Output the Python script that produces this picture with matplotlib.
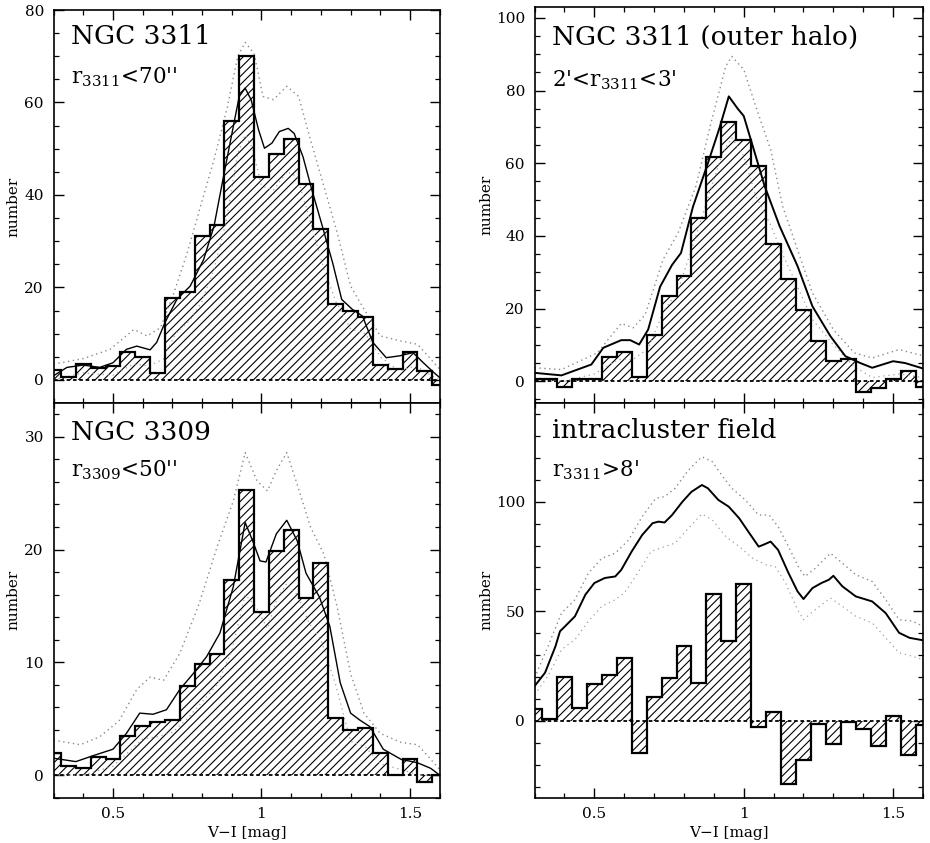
import numpy as np
import matplotlib
matplotlib.use("Agg")
import matplotlib.pyplot as plt
from matplotlib.ticker import MultipleLocator

plt.rcParams['font.family'] = ['DejaVu Serif']
plt.rcParams['mathtext.fontset'] = 'dejavuserif'
plt.rcParams['hatch.linewidth'] = 0.8

# bin centres (V-I), 0.05 mag wide
bin_centers = [0.30, 0.35, 0.40, 0.45, 0.50, 0.55, 0.60, 0.65, 0.70, 0.75, 0.80, 0.85, 0.90, 0.95,
               1.00, 1.05, 1.10, 1.15, 1.20, 1.25, 1.30, 1.35, 1.40, 1.45, 1.50, 1.55, 1.60]

# --- NGC 3311, r < 70''
tl_hist = [2.2, 0.7, 3.4, 2.6, 2.9, 6.1, 5.0, 1.4, 17.8, 19.1, 31.1, 33.5, 56.0, 70.1,
           43.9, 48.8, 52.2, 42.4, 32.7, 16.5, 15.0, 13.5, 3.2, 2.3, 6.0, 1.9, -1.1]
tl_sx = [0.30, 0.345, 0.40, 0.455, 0.50, 0.545, 0.58, 0.625, 0.647, 0.675, 0.715, 0.76, 0.805,
         0.84, 0.87, 0.905, 0.925, 0.945, 0.965, 0.99, 1.01, 1.035, 1.06, 1.09, 1.11, 1.14,
         1.17, 1.205, 1.24, 1.27, 1.305, 1.34, 1.375, 1.42, 1.465, 1.51, 1.545, 1.58, 1.60]
tl_sy = [0.9, 2.7, 3.2, 2.7, 3.7, 6.6, 7.3, 6.5, 8.1, 12.4, 17.4, 20.3, 26.0,
         33.2, 43.3, 54.8, 61.3, 63.1, 60.6, 54.1, 50.1, 51.2, 53.7, 54.4, 53.3, 48.2,
         41.0, 33.2, 25.2, 17.4, 15.3, 13.8, 8.1, 4.8, 5.2, 5.9, 3.7, 1.6, 0.5]
tl_ux = [0.30, 0.40, 0.49, 0.57, 0.615, 0.66, 0.705, 0.75, 0.795, 0.84, 0.885, 0.92, 0.945,
         0.975, 1.005, 1.04, 1.085, 1.125, 1.165, 1.21, 1.255, 1.30, 1.345, 1.40, 1.47,
         1.525, 1.57, 1.60]
tl_uy = [3.4, 4.6, 6.6, 10.9, 9.5, 11.3, 18.8, 27.5, 37.6, 47.6, 59.0, 70.0, 73.0,
         70.6, 61.3, 60.6, 63.5, 61.3, 51.9, 41.9, 31.8, 20.3, 15.3, 9.5, 8.4,
         7.7, 4.5, 2.3]
tl_lx = [0.30, 0.40, 0.50, 0.57, 0.62, 0.67, 0.71, 0.76, 0.80, 0.84, 0.88, 0.92, 0.945, 0.97,
         1.00, 1.04, 1.085, 1.12, 1.17, 1.21, 1.25, 1.30, 1.35, 1.40, 1.46, 1.52, 1.57, 1.60]
tl_ly = [0.0, 1.5, 1.0, 3.5, 3.0, 4.5, 10.0, 13.0, 17.0, 24.0, 34.0, 49.0, 53.0, 50.0,
         42.0, 41.0, 45.0, 44.0, 33.0, 24.0, 17.0, 11.0, 10.0, 5.0, 2.0, 3.0, 1.0, 0.0]

# --- NGC 3309, r < 50''
bl_hist = [2.0, 0.8, 0.65, 1.6, 1.4, 3.5, 4.4, 4.7, 4.9, 7.9, 9.9, 10.7, 17.3, 25.3,
           14.5, 19.9, 21.7, 15.7, 18.8, 5.1, 4.0, 4.2, 2.0, 0.0, 1.4, -0.6, 0.0]
bl_sx = [0.30, 0.375, 0.43, 0.50, 0.545, 0.59, 0.635, 0.68, 0.725, 0.77, 0.815, 0.86, 0.905,
         0.945, 0.97, 0.995, 1.015, 1.05, 1.085, 1.12, 1.15, 1.195, 1.23, 1.265, 1.30, 1.33,
         1.365, 1.41, 1.47, 1.525, 1.57, 1.60]
bl_sy = [1.5, 1.2, 1.7, 2.3, 3.7, 5.5, 5.4, 5.8, 7.6, 9.0, 10.5, 12.6, 16.7,
         22.4, 20.8, 19.0, 18.9, 21.4, 22.6, 20.8, 17.9, 15.8, 13.2, 8.2, 5.5, 4.9,
         4.3, 2.3, 1.4, 1.1, 0.6, 0.0]
bl_ux = [0.30, 0.39, 0.455, 0.52, 0.58, 0.625, 0.67, 0.725, 0.79, 0.85, 0.905, 0.945, 0.985,
         1.02, 1.05, 1.085, 1.12, 1.165, 1.21, 1.255, 1.30, 1.345, 1.40, 1.47, 1.525, 1.57, 1.60]
bl_uy = [3.1, 2.7, 3.4, 4.8, 7.6, 8.7, 8.4, 10.8, 15.2, 20.2, 24.3, 28.6, 26.1,
         25.2, 27.0, 28.6, 25.8, 22.0, 19.6, 14.9, 9.0, 5.5, 3.7, 2.9, 2.7, 1.4, 0.5]
bl_lx = [0.30, 0.40, 0.50, 0.55, 0.60, 0.65, 0.70, 0.75, 0.80, 0.85, 0.90, 0.945, 0.98,
         1.02, 1.05, 1.085, 1.12, 1.16, 1.20, 1.25, 1.30, 1.35, 1.40, 1.47, 1.53, 1.60]
bl_ly = [0.0, 0.0, 0.8, 2.0, 3.2, 3.4, 3.8, 5.0, 6.5, 8.0, 11.0, 16.0, 15.0,
         13.0, 15.5, 17.0, 16.0, 13.5, 12.0, 8.0, 3.0, 2.5, 1.0, 0.5, 0.0, 0.0]

# --- NGC 3311 outer halo, 2' < r < 3'
tr_hist = [0.5, 0.5, -1.6, 0.5, 0.5, 6.7, 8.0, 1.2, 12.6, 23.4, 28.9, 45.0, 61.7, 71.4,
           66.5, 59.2, 37.9, 28.0, 19.5, 11.0, 5.5, 6.1, -3.0, -1.8, 0.5, 2.8, -1.7]
tr_sx = [0.30, 0.39, 0.49, 0.53, 0.59, 0.62, 0.65, 0.68, 0.72, 0.76, 0.79, 0.83, 0.88, 0.92,
         0.95, 0.98, 1.00, 1.04, 1.07, 1.12, 1.18, 1.23, 1.29, 1.34, 1.39, 1.43, 1.50, 1.54, 1.60]
tr_sy = [2.3, 1.6, 4.6, 9.2, 11.3, 11.3, 10.1, 14.2, 26.0, 32.0, 35.3, 48.0, 60.0, 70.0,
         78.4, 75.0, 73.0, 62.0, 53.7, 42.7, 31.7, 20.6, 12.4, 6.9, 5.0, 3.7, 5.5, 5.0, 3.5]
tr_ux = [0.30, 0.39, 0.51, 0.59, 0.63, 0.67, 0.73, 0.78, 0.84, 0.89, 0.94, 0.96, 1.00, 1.04,
         1.09, 1.13, 1.18, 1.23, 1.30, 1.37, 1.43, 1.52, 1.60]
tr_uy = [3.7, 3.2, 7.8, 15.9, 14.7, 18.3, 33.5, 40.8, 53.7, 71.0, 86.7, 89.4, 85.8, 75.7,
         63.8, 48.2, 36.2, 24.3, 14.2, 7.8, 6.4, 8.7, 7.0]
tr_lx = [0.30, 0.40, 0.50, 0.58, 0.63, 0.68, 0.73, 0.78, 0.84, 0.89, 0.93, 0.96, 1.00, 1.04,
         1.09, 1.13, 1.18, 1.23, 1.30, 1.37, 1.43, 1.52, 1.60]
tr_ly = [1.0, 0.0, 2.0, 6.0, 6.0, 9.0, 19.0, 25.0, 40.0, 53.0, 63.0, 67.0, 62.0, 51.0,
         43.0, 35.0, 26.0, 17.0, 10.0, 4.0, 1.0, 2.0, 1.0]

# --- intracluster field, r > 8'
br_hist = [5.3, 0.8, 20.2, 6.1, 16.7, 21.1, 28.6, -14.7, 11.1, 19.4, 34.1, 17.1, 58.0, 36.4,
           62.4, -2.6, 4.1, -28.8, -17.9, -1.5, -10.3, -0.3, -3.5, -11.4, 2.3, -15.6, -2.0]
br_sx = [0.30, 0.335, 0.37, 0.385, 0.40, 0.435, 0.47, 0.50, 0.535, 0.57, 0.59, 0.625, 0.66,
         0.695, 0.715, 0.735, 0.76, 0.795, 0.825, 0.86, 0.88, 0.915, 0.95, 0.985, 1.015,
         1.05, 1.065, 1.09, 1.115, 1.15, 1.18, 1.20, 1.23, 1.26, 1.285, 1.30, 1.33, 1.375,
         1.43, 1.475, 1.52, 1.555, 1.60]
br_sy = [15.9, 22.0, 34.1, 40.9, 42.9, 47.7, 57.6, 62.9, 65.2, 65.9, 68.9, 77.3, 84.8,
         90.2, 90.9, 90.5, 93.9, 100.0, 104.5, 107.6, 106.1, 100.8, 97.7, 92.4, 86.4,
         79.5, 80.3, 81.8, 78.0, 67.4, 59.1, 55.6, 60.6, 62.9, 64.4, 66.2, 61.4, 56.8,
         54.5, 49.2, 40.2, 37.9, 36.8]
br_ux = [0.30, 0.345, 0.39, 0.435, 0.48, 0.525, 0.57, 0.615, 0.66, 0.705, 0.735, 0.77, 0.815,
         0.86, 0.895, 0.93, 0.96, 1.005, 1.05, 1.085, 1.115, 1.15, 1.185, 1.205, 1.24, 1.29,
         1.33, 1.375, 1.43, 1.475, 1.52, 1.565, 1.60]
br_uy = [19.7, 34.1, 49.2, 55.3, 67.4, 74.2, 76.5, 82.6, 93.2, 101.5, 102.3, 106.1, 114.4,
         120.5, 118.2, 111.4, 106.1, 100.8, 93.9, 93.9, 88.6, 79.5, 69.7, 65.9, 69.7, 76.5,
         72.0, 66.7, 63.6, 55.3, 46.2, 45.5, 43.2]
br_lx = [0.30, 0.345, 0.39, 0.435, 0.48, 0.525, 0.57, 0.60, 0.645, 0.69, 0.735, 0.77, 0.815,
         0.86, 0.895, 0.94, 0.985, 1.03, 1.075, 1.105, 1.14, 1.18, 1.20, 1.24, 1.29, 1.33,
         1.375, 1.43, 1.475, 1.52, 1.565, 1.60]
br_ly = [12.1, 20.5, 32.6, 37.1, 45.5, 52.3, 55.3, 58.3, 67.4, 77.3, 79.5, 81.1, 87.9,
         94.4, 91.7, 84.1, 79.5, 74.2, 71.2, 70.5, 62.9, 50.8, 46.2, 50.8, 56.1, 52.3,
         47.7, 44.7, 37.9, 31.1, 29.5, 28.0]

W, H = 930, 843
fig = plt.figure(figsize=(W / 100, H / 100), dpi=100)


def make_axes(left, right, top, bottom):
    return fig.add_axes([left / W, 1 - bottom / H, (right - left) / W, (bottom - top) / H])


def draw_panel(ax, hist, sx, sy, ux, uy, lx, ly, ylim, ymajor, yminor, solid_lw,
               title, subtitle, ty, sty, show_xlabels, ylab_x):
    width = 0.05
    edges = np.append(np.array(bin_centers) - width / 2, bin_centers[-1] + width / 2)
    ax.bar(bin_centers, hist, width=width, color='none', edgecolor='black',
           linewidth=0, hatch='////', zorder=1)
    ax.stairs(hist, edges, baseline=None, color='black', lw=1.6, zorder=3)
    ax.axhline(0, color='black', lw=1.3, ls=(0, (2.0, 1.5)), zorder=2)
    ax.plot(ux, uy, color='#8a8a8a', lw=1.0, ls=(0, (1, 2.5)), zorder=2)
    ax.plot(lx, ly, color='#a0a0a0', lw=0.9, ls=(0, (1, 3)), zorder=2)
    ax.plot(sx, sy, color='black', lw=solid_lw, zorder=4)

    ax.set_xlim(0.3, 1.6)
    ax.set_ylim(*ylim)
    ax.xaxis.set_major_locator(MultipleLocator(0.5))
    ax.xaxis.set_minor_locator(MultipleLocator(0.1))
    ax.yaxis.set_major_locator(MultipleLocator(ymajor))
    ax.yaxis.set_minor_locator(MultipleLocator(yminor))
    ax.tick_params(which='both', direction='in', top=True, right=True, labelsize=11)
    ax.tick_params(which='major', length=7, width=1.0, pad=7)
    ax.tick_params(which='minor', length=3.5, width=0.9)
    for sp in ax.spines.values():
        sp.set_linewidth(1.2)
    if show_xlabels:
        ax.set_xticks([0.5, 1.0, 1.5], ['0.5', '1', '1.5'])
        ax.set_xlabel('V\u2212I [mag]', fontsize=11, labelpad=3)
    else:
        ax.set_xticks([0.5, 1.0, 1.5], ['', '', ''])
    ax.set_ylabel('number', fontsize=11)
    ax.yaxis.set_label_coords(ylab_x, 0.5)
    ax.text(0.045, ty, title, transform=ax.transAxes, fontsize=19, va='baseline', ha='left')
    ax.text(0.045, sty, subtitle, transform=ax.transAxes, fontsize=15.5, va='baseline', ha='left')


ax_tl = make_axes(53.6, 439.7, 10, 403)
ax_bl = make_axes(53.6, 439.7, 403, 797.7)
ax_tr = make_axes(534.6, 923, 7, 403)
ax_br = make_axes(534.6, 923, 403, 797.7)

draw_panel(ax_tl, tl_hist, tl_sx, tl_sy, tl_ux, tl_uy, tl_lx, tl_ly, (-5, 80), 20, 5, 1.0,
           'NGC 3311', r"r$_{3311}$<70''", 0.913, 0.814, False, -0.085)
draw_panel(ax_bl, bl_hist, bl_sx, bl_sy, bl_ux, bl_uy, bl_lx, bl_ly, (-2, 33), 10, 2, 1.0,
           'NGC 3309', r"r$_{3309}$<50''", 0.906, 0.813, True, -0.085)
draw_panel(ax_tr, tr_hist, tr_sx, tr_sy, tr_ux, tr_uy, tr_lx, tr_ly, (-6, 103), 20, 5, 1.4,
           'NGC 3311 (outer halo)', r"2'<r$_{3311}$<3'", 0.904, 0.800, False, -0.105)
draw_panel(ax_br, br_hist, br_sx, br_sy, br_ux, br_uy, br_lx, br_ly, (-35, 145), 50, 10, 1.4,
           'intracluster field', r"r$_{3311}$>8'", 0.911, 0.813, True, -0.105)

fig.savefig('out.png', dpi=100)
